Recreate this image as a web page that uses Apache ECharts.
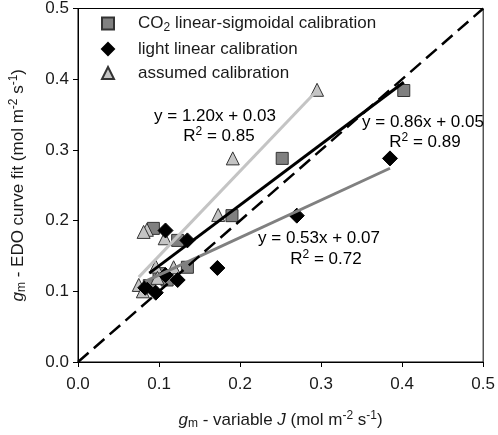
<!DOCTYPE html>
<html>
<head>
<meta charset="utf-8">
<script src="https://cdn.jsdelivr.net/npm/echarts@6/dist/echarts.min.js"></script>
<style>html,body{margin:0;padding:0;background:#fff}#c{width:498px;height:435px}</style>
</head>
<body>
<div id="c"></div>
<script>
// ---- data ----
var seriesNames = ['CO2 linear-sigmoidal calibration', 'light linear calibration', 'assumed calibration'];
var co2X = [0.402, 0.252, 0.190, 0.123, 0.093, 0.135, 0.110, 0.100, 0.088];
var co2Y = [0.384, 0.288, 0.207, 0.172, 0.189, 0.134, 0.116, 0.125, 0.108];
var lightX = [0.385, 0.270, 0.172, 0.135, 0.108, 0.108, 0.123, 0.083, 0.096];
var lightY = [0.288, 0.207, 0.133, 0.172, 0.186, 0.123, 0.116, 0.105, 0.098];
var assumedX = [0.295, 0.191, 0.173, 0.107, 0.085, 0.081, 0.096, 0.118, 0.098, 0.075, 0.080];
var assumedY = [0.385, 0.288, 0.208, 0.175, 0.187, 0.184, 0.135, 0.134, 0.119, 0.109, 0.100];
var fitSlope = [0.86, 0.53, 1.20];
var fitIntercept = [0.05, 0.07, 0.03];
var fitR2 = [0.89, 0.72, 0.85];
var oneToOne = [0, 0.5];
var axisTicks = [0, 0.1, 0.2, 0.3, 0.4, 0.5];

function pairs(xs, ys) { return xs.map(function (x, i) { return [x, ys[i]]; }); }
function fitLine(xs, k) {
  var lo = Math.min.apply(null, xs), hi = Math.max.apply(null, xs);
  return [[lo, fitSlope[k] * lo + fitIntercept[k]], [hi, fitSlope[k] * hi + fitIntercept[k]]];
}
var FONT = "'Liberation Sans', Arial, sans-serif";
var TXT = '#1a1a1a';
var FS = 17;
var rich = {
  n: { fontSize: FS, fontFamily: FONT, color: TXT, lineHeight: 20 },
  i: { fontSize: FS, fontFamily: FONT, color: TXT, fontStyle: 'italic', lineHeight: 20 },
  sub: { fontSize: 12, fontFamily: FONT, color: TXT, verticalAlign: 'bottom', lineHeight: 10 },
  sup: { fontSize: 12, fontFamily: FONT, color: TXT, verticalAlign: 'top', lineHeight: 10 }
};

var chart = echarts.init(document.getElementById('c'), null, { renderer: 'canvas' });

var fitColors = ['#000000', '#808080', '#c4c4c4'];

function eqText(k) {
  return '{n|y = ' + fitSlope[k].toFixed(2) + 'x + ' + fitIntercept[k].toFixed(2) + '}';
}
function r2Text(k) { return '{n|R}{sup|2}{n| = ' + fitR2[k].toFixed(2) + '}'; }

var option = {
  animation: false,
  backgroundColor: '#fff',
  grid: { left: 77, right: 13, top: 7, bottom: 70, show: true, borderColor: '#000', borderWidth: 1 },
  xAxis: {
    type: 'value', min: 0, max: 0.5, interval: 0.1,
    axisLine: { lineStyle: { color: '#000', width: 1 } },
    axisTick: { show: true, length: 5, lineStyle: { color: '#000' } },
    splitLine: { show: false },
    axisLabel: { color: TXT, fontSize: FS, fontFamily: FONT, margin: 14, formatter: function (v) { return v.toFixed(1); } },
    name: '{i|g}{sub|m}{n| - variable }{i|J}{n| (mol m}{sup|-2}{n| s}{sup|-1}{n|)}',
    nameLocation: 'middle', nameGap: 48,
    nameTextStyle: { rich: rich }
  },
  yAxis: {
    type: 'value', min: 0, max: 0.5, interval: 0.1,
    axisLine: { lineStyle: { color: '#000', width: 1 } },
    axisTick: { show: true, length: 5, lineStyle: { color: '#000' } },
    splitLine: { show: false },
    axisLabel: { color: TXT, fontSize: FS, fontFamily: FONT, margin: 9, formatter: function (v) { return v.toFixed(1); } },
    name: '{i|g}{sub|m}{n| - EDO curve fit (mol m}{sup|-2}{n| s}{sup|-1}{n|)}',
    nameLocation: 'middle', nameGap: 50,
    nameTextStyle: { rich: rich }
  },
  legend: {
    orient: 'vertical', left: 96, top: 10, itemGap: 7,
    itemWidth: 12, itemHeight: 12,
    data: seriesNames,
    textStyle: { padding: [0, 0, 0, 19], rich: rich },
    formatter: function (name) {
      if (name === seriesNames[0]) return '{n|CO}{sub|2}{n| linear-sigmoidal calibration}';
      return '{n|' + name + '}';
    }
  },
  series: [
    {
      name: seriesNames[0], type: 'scatter', symbol: 'rect', symbolSize: 12, z: 3,
      itemStyle: { color: '#808080', borderColor: '#333', borderWidth: 1, opacity: 1 },
      data: pairs(co2X, co2Y)
    },
    {
      name: seriesNames[1], type: 'scatter', symbol: 'diamond', symbolSize: 15, z: 5,
      itemStyle: { color: '#000', borderColor: '#000', borderWidth: 1, opacity: 1 },
      data: pairs(lightX, lightY)
    },
    {
      name: seriesNames[2], type: 'scatter', symbol: 'triangle', symbolSize: 13, z: 4,
      itemStyle: { color: '#c4c4c4', borderColor: '#333', borderWidth: 1, opacity: 1 },
      data: pairs(assumedX, assumedY)
    },
    {
      name: 'fit0', type: 'line', symbol: 'none', z: 6, silent: true,
      lineStyle: { color: fitColors[0], width: 3 }, data: fitLine(co2X, 0)
    },
    {
      name: 'fit1', type: 'line', symbol: 'none', z: 6, silent: true,
      lineStyle: { color: fitColors[1], width: 3 }, data: fitLine(lightX, 1)
    },
    {
      name: 'fit2', type: 'line', symbol: 'none', z: 6, silent: true,
      lineStyle: { color: fitColors[2], width: 3 }, data: fitLine(assumedX, 2)
    },
    {
      name: '1:1', type: 'line', symbol: 'none', z: 7, silent: true,
      lineStyle: { color: '#000', width: 2.5, type: [14, 7] },
      data: [[oneToOne[0], oneToOne[0]], [oneToOne[1], oneToOne[1]]]
    }
  ],
  graphic: [
    { type: 'text', x: 215, y: 116, style: { text: eqText(2), rich: rich, align: 'center', verticalAlign: 'middle' } },
    { type: 'text', x: 219, y: 136, style: { text: r2Text(2), rich: rich, align: 'center', verticalAlign: 'middle' } },
    { type: 'text', x: 423, y: 122, style: { text: eqText(0), rich: rich, align: 'center', verticalAlign: 'middle' } },
    { type: 'text', x: 425, y: 142, style: { text: r2Text(0), rich: rich, align: 'center', verticalAlign: 'middle' } },
    { type: 'text', x: 319, y: 238, style: { text: eqText(1), rich: rich, align: 'center', verticalAlign: 'middle' } },
    { type: 'text', x: 326, y: 259, style: { text: r2Text(1), rich: rich, align: 'center', verticalAlign: 'middle' } }
  ]
};
chart.setOption(option);
</script>
</body>
</html>
